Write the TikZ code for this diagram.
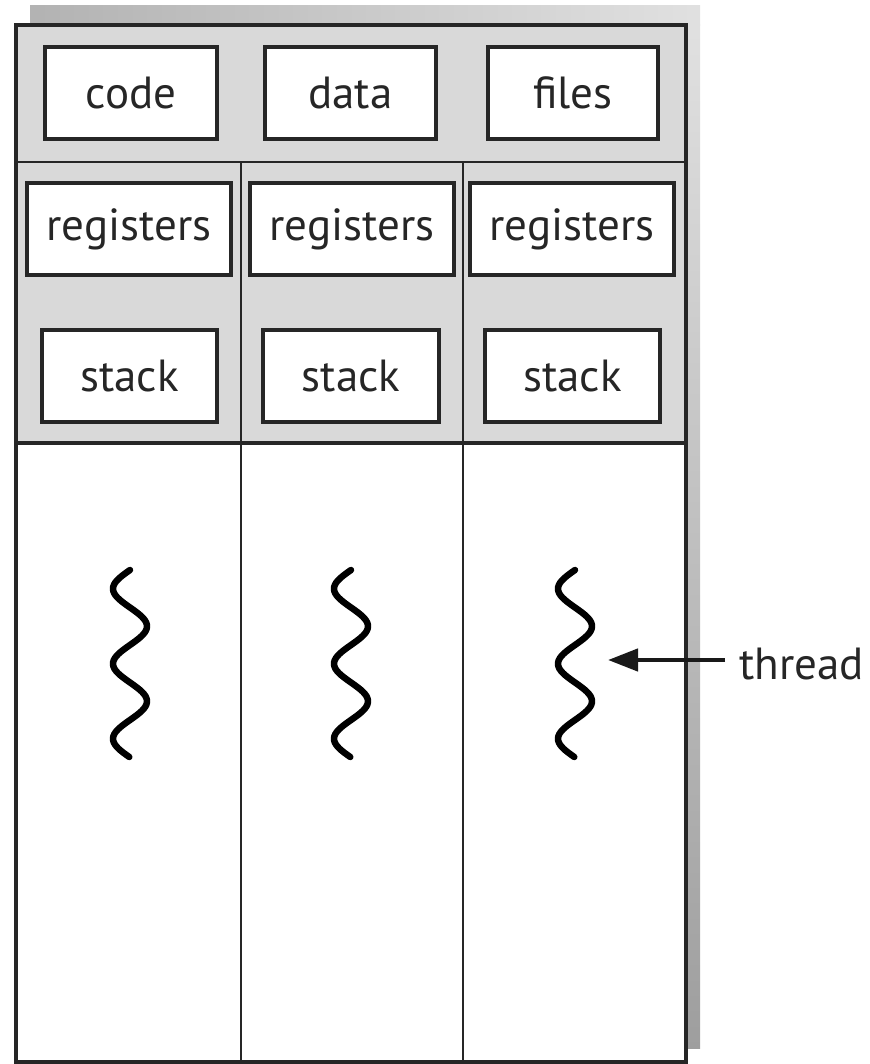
\documentclass[tikz,border=0pt]{standalone}
\usepackage{fontspec}
\setmainfont{PT Sans}
\usetikzlibrary{arrows.meta}
\definecolor{panelgray}{HTML}{D9D9D9}
\tikzset{
  lbl/.style={font=\fontsize{45}{54}\selectfont, text=black!85},
  seg/.style={draw=black!85, line width=4pt, fill=white, minimum height=92pt, inner sep=0pt, lbl},
  divider/.style={draw=black!85, line width=2.5pt},
  squiggle/.style={draw=black, line width=6.5pt, line cap=round, line join=round},
}
\begin{document}
\begin{tikzpicture}[x=1pt,y=-1pt]
  \useasboundingbox (0,0) rectangle (869,1064);
  % drop shadow behind the process box
  \shade[left color=black!30, right color=black!12] (30,6) rectangle (700,26);
  \shade[top color=black!12, bottom color=black!38] (686,25) rectangle (700,1048);
  % shared region and per-thread region
  \fill[panelgray] (16,25) rectangle (686,443);
  \fill[white] (16,443) rectangle (686,1062);
  \draw[divider] (16,162) -- (686,162);
  \draw[divider] (241,162) -- (241,1062);
  \draw[divider] (463,162) -- (463,1062);
  \draw[draw=black!85, line width=4pt] (16,443) -- (686,443);
  \draw[draw=black!85, line width=4pt] (16,25) rectangle (686,1062);
  % shared resources
  \node[seg, minimum width=172pt] (code)  at (131,93)   {code};
  \node[seg, minimum width=171pt] (data)  at (350.5,93) {data};
  \node[seg, minimum width=170pt] (files) at (573,93)   {files};
  % per-thread registers
  \node[seg, minimum width=204pt] (regA) at (129,229) {registers};
  \node[seg, minimum width=204pt] (regB) at (352,229) {registers};
  \node[seg, minimum width=204pt] (regC) at (572,229) {registers};
  % per-thread stacks
  \node[seg, minimum width=175pt] (stackA) at (129.5,376) {stack};
  \node[seg, minimum width=176pt] (stackB) at (351,376)   {stack};
  \node[seg, minimum width=175pt] (stackC) at (572.5,376) {stack};
  % threads
  \foreach \cx in {130,351,575}{
    \draw[squiggle] plot[domain=0:187, samples=90, smooth] ({\cx-17*sin(\x*4.8)},{570+\x});
  }
  % label with pointer
  \node[lbl, anchor=base west, inner sep=0pt] (thread) at (739,679) {thread};
  \coordinate (tip) at (608,660);
  \draw[line width=4.5pt, black!90, -{Triangle[length=30pt,width=22pt]}] (thread.west |- tip) ++(-14,0) -- (tip);
\end{tikzpicture}
\end{document}
